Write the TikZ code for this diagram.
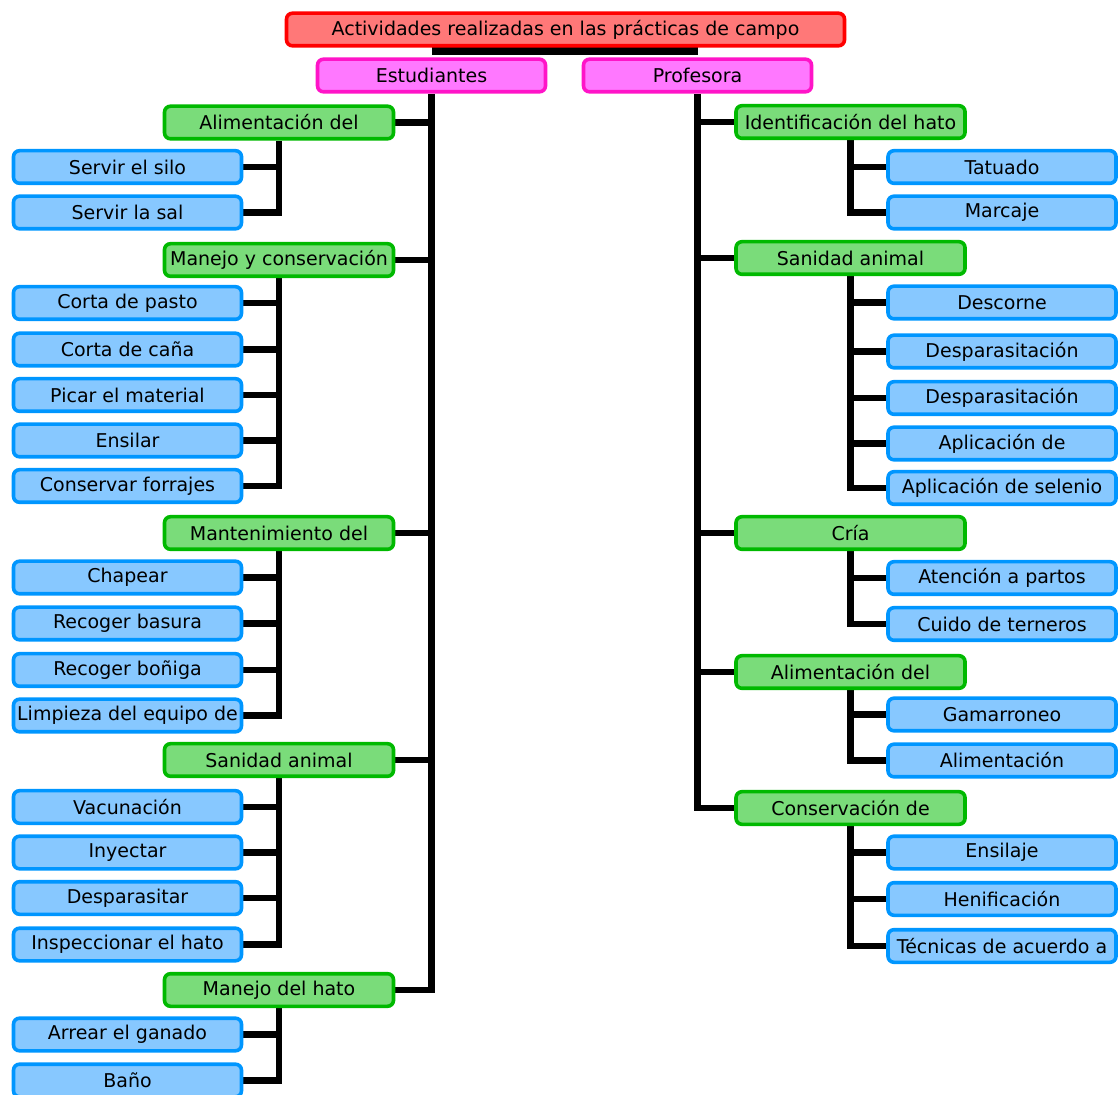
\documentclass[tikz,border=0pt]{standalone}
\usepackage{fontspec}
\setmainfont{DejaVu Sans}
\usetikzlibrary{backgrounds}
\definecolor{redB}{RGB}{255,0,0}
\definecolor{redF}{RGB}{255,120,120}
\definecolor{pinkB}{RGB}{255,20,200}
\definecolor{pinkF}{RGB}{255,120,255}
\definecolor{greenB}{RGB}{0,185,0}
\definecolor{greenF}{RGB}{122,220,122}
\definecolor{blueB}{RGB}{0,150,255}
\definecolor{blueF}{RGB}{135,200,255}
\begin{document}
\begin{tikzpicture}[x=0.5pt,y=-0.5pt,
  box/.style={rounded corners=3pt,line width=1.8pt,minimum height=16.3pt,inner sep=0pt,font=\fontsize{9.5}{10}\selectfont,text=black},
  topbox/.style={box,draw=redB,fill=redF,minimum width=279pt},
  pbox/.style={box,draw=pinkB,fill=pinkF,minimum width=114pt},
  gbox/.style={box,draw=greenB,fill=greenF,minimum width=114.5pt},
  bbox/.style={box,draw=blueB,fill=blueF,minimum width=114pt},
  conn/.style={draw=black,line width=3.2pt}]
\useasboundingbox (0,0) rectangle (1119,1095);
% top
\node[topbox] (top) at (565.5,29.5) {Actividades realizadas en las prácticas de campo};
\node[pbox] (est) at (431.5,75.5) {Estudiantes};
\node[pbox] (prof) at (697.5,75.5) {Profesora};
% left green
\node[gbox] (gl1) at (279,122.5) {Alimentación del};
\node[gbox] (gl2) at (279,260) {Manejo y conservación};
\node[gbox] (gl3) at (279,533) {Mantenimiento del};
\node[gbox] (gl4) at (279,760) {Sanidad animal};
\node[gbox] (gl5) at (279,990) {Manejo del hato};
% left blue
\node[bbox] (a1) at (127.5,167) {Servir el silo};
\node[bbox] (a2) at (127.5,212.5) {Servir la sal};
\node[bbox] (b1) at (127.5,303) {Corta de pasto};
\node[bbox] (b2) at (127.5,349.5) {Corta de caña};
\node[bbox] (b3) at (127.5,395) {Picar el material};
\node[bbox] (b4) at (127.5,440.5) {Ensilar};
\node[bbox] (b5) at (127.5,486) {Conservar forrajes};
\node[bbox] (c1) at (127.5,577.5) {Chapear};
\node[bbox] (c2) at (127.5,623.5) {Recoger basura};
\node[bbox] (c3) at (127.5,670) {Recoger boñiga};
\node[bbox] (c4) at (127.5,715.5) {Limpieza del equipo de};
\node[bbox] (d1) at (127.5,807) {Vacunación};
\node[bbox] (d2) at (127.5,852.5) {Inyectar};
\node[bbox] (d3) at (127.5,898) {Desparasitar};
\node[bbox] (d4) at (127.5,944.5) {Inspeccionar el hato};
\node[bbox] (e1) at (127.5,1034.5) {Arrear el ganado};
\node[bbox] (e2) at (127.5,1080.5) {Baño};
% right green
\node[gbox] (gr1) at (850.5,122) {Identificación del hato};
\node[gbox] (gr2) at (850.5,258) {Sanidad animal};
\node[gbox] (gr3) at (850.5,533) {Cría};
\node[gbox] (gr4) at (850.5,672) {Alimentación del};
\node[gbox] (gr5) at (850.5,808) {Conservación de};
% right blue
\node[bbox] (f1) at (1002,167) {Tatuado};
\node[bbox] (f2) at (1002,212.5) {Marcaje};
\node[bbox] (g1) at (1002,302.5) {Descorne};
\node[bbox] (g2) at (1002,351.5) {Desparasitación};
\node[bbox] (g3) at (1002,398) {Desparasitación};
\node[bbox] (g4) at (1002,443.5) {Aplicación de};
\node[bbox] (g5) at (1002,488) {Aplicación de selenio};
\node[bbox] (h1) at (1002,578) {Atención a partos};
\node[bbox] (h2) at (1002,624) {Cuido de terneros};
\node[bbox] (i1) at (1002,714.5) {Gamarroneo};
\node[bbox] (i2) at (1002,760.5) {Alimentación};
\node[bbox] (j1) at (1002,852.5) {Ensilaje};
\node[bbox] (j2) at (1002,899) {Henificación};
\node[bbox] (j3) at (1002,946) {Técnicas de acuerdo a};
\begin{scope}[on background layer]
% connectors top
\draw[conn] (top.south) -- (top.south |- 0,51);
\draw[conn,line width=4pt] (est.north |- 0,51) -- (prof.north |- 0,51);
% left trunk
\draw[conn] (est.south) |- (gl5.east);
\foreach \g in {gl1,gl2,gl3,gl4} \draw[conn] (\g.east) -- (\g.east -| est.south);
% right trunk
\draw[conn] (prof.south) |- (gr5.west);
\foreach \g in {gr1,gr2,gr3,gr4} \draw[conn] (\g.west) -- (\g.west -| prof.south);
% left subtrees
\draw[conn] (gl1.south) |- (a2.east);
\draw[conn] (a1.east) -- (a1.east -| gl1.south);
\draw[conn] (gl2.south) |- (b5.east);
\foreach \n in {b1,b2,b3,b4} \draw[conn] (\n.east) -- (\n.east -| gl2.south);
\draw[conn] (gl3.south) |- (c4.east);
\foreach \n in {c1,c2,c3} \draw[conn] (\n.east) -- (\n.east -| gl3.south);
\draw[conn] (gl4.south) |- (d4.east);
\foreach \n in {d1,d2,d3} \draw[conn] (\n.east) -- (\n.east -| gl4.south);
\draw[conn] (gl5.south) |- (e2.east);
\draw[conn] (e1.east) -- (e1.east -| gl5.south);
% right subtrees
\draw[conn] (gr1.south) |- (f2.west);
\draw[conn] (f1.west) -- (f1.west -| gr1.south);
\draw[conn] (gr2.south) |- (g5.west);
\foreach \n in {g1,g2,g3,g4} \draw[conn] (\n.west) -- (\n.west -| gr2.south);
\draw[conn] (gr3.south) |- (h2.west);
\draw[conn] (h1.west) -- (h1.west -| gr3.south);
\draw[conn] (gr4.south) |- (i2.west);
\draw[conn] (i1.west) -- (i1.west -| gr4.south);
\draw[conn] (gr5.south) |- (j3.west);
\foreach \n in {j1,j2} \draw[conn] (\n.west) -- (\n.west -| gr5.south);
\end{scope}
\end{tikzpicture}
\end{document}
